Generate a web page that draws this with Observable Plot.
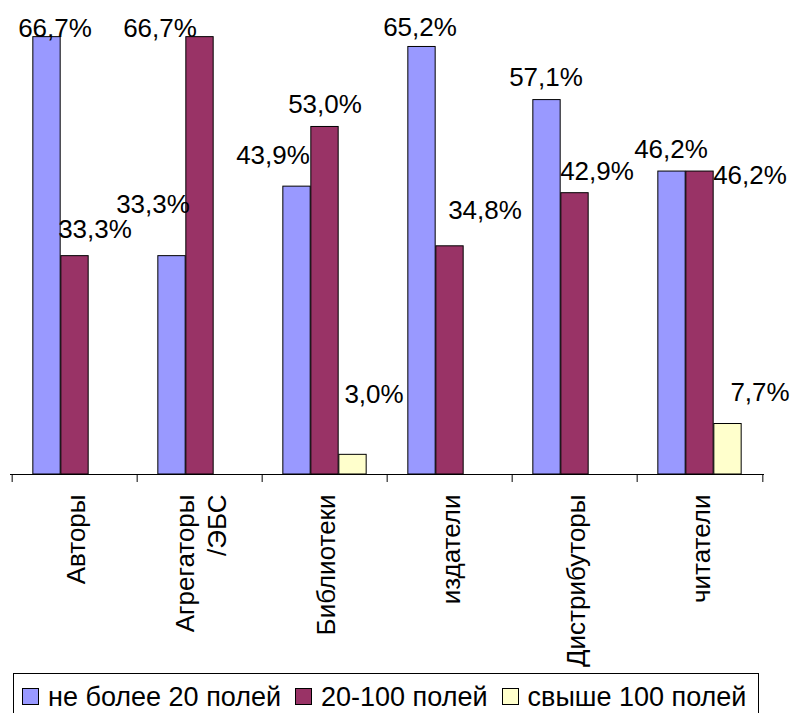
<!DOCTYPE html>
<html>
<head>
<meta charset="utf-8">
<script src="https://cdn.jsdelivr.net/npm/d3@7"></script>
<script src="https://cdn.jsdelivr.net/npm/@observablehq/plot@0.6"></script>
<style>
  html, body { margin: 0; padding: 0; background: #fff; }
  body { font-family: "Liberation Sans", Arial, sans-serif; width: 794px; height: 713px; overflow: hidden; }
  #chart svg { display: block; }
  .legend {
    margin-top: 3px; margin-left: 13px; width: 746px; height: 50px; box-sizing: border-box;
    border: 1px solid #000; padding: 8px 0 0 8px;
    display: flex; align-items: flex-start;
    font-size: 27px; line-height: 30px; color: #000; white-space: nowrap;
  }
  .legend .item { display: flex; align-items: center; margin-right: 14px; }
  .legend .sw { width: 15px; height: 15px; border: 1px solid #000; margin-right: 9px; margin-top: -2px; }
</style>
</head>
<body>
<div id="chart"></div>
<div class="legend" id="legend"></div>
<script>
// ---- data ----
const categories = ["Авторы", "Агрегаторы\n/ЭБС", "Библиотеки", "издатели", "Дистрибуторы", "читатели"];
const seriesNames = ["не более 20 полей", "20-100 полей", "свыше 100 полей"];
const upTo20 = [66.7, 33.3, 43.9, 65.2, 57.1, 46.2];
const from20to100 = [33.3, 66.7, 53.0, 34.8, 42.9, 46.2];
const over100 = [null, null, 3.0, null, null, 7.7];
const seriesColors = ["#9999FF", "#993366", "#FFFFCC"];
// label nudges (px) relative to the top centre of each bar, as placed in the original
const labelDx = [[8, -19, -24, -2, -1, -1], [20, -40, 0, 35, 22, 50], [0, 0, 21, 0, 0, 32]];
const labelDy = [[0, -43, -23, -11, -14, -14], [-18, 0, -14, -27, -13, 12], [0, 0, -52, 0, 0, -23]];

// ---- layout ----
const W = 794, H = 670, mL = 10, mR = 30, mT = 15, mB = 196;
const band = (W - mL - mR) / categories.length;
const barW = 28;
const inset = (band - barW) / 2;
const font = "Liberation Sans, Arial, sans-serif";

const allValues = [upTo20, from20to100, over100];
const rows = [];
allValues.forEach((vals, k) => {
  vals.forEach((v, i) => {
    if (v != null) rows.push({category: categories[i], series: seriesNames[k], k, value: v, ldx: labelDx[k][i], ldy: labelDy[k][i]});
  });
});
const fmt = v => v.toFixed(1).replace(".", ",") + "%";

const marks = [];
seriesNames.forEach((s, k) => {
  marks.push(Plot.barY(rows.filter(r => r.k === k), {
    x: "category", y: "value", fill: seriesColors[k], stroke: "#000", strokeWidth: 1,
    insetLeft: inset, insetRight: inset, dx: (k - 1) * barW
  }));
});
marks.push(Plot.ruleY([0], {stroke: "#000", strokeWidth: 1}));
marks.push(Plot.axisX({tickSize: 8, dx: -band / 2, fill: "none", label: null, stroke: "#000"}));
marks.push(Plot.axisX({ticks: [categories[categories.length - 1]], tickSize: 8, dx: band / 2, fill: "none", label: null, stroke: "#000"}));
marks.push(Plot.text(categories, {
  x: d => d, y: () => 0, text: d => d, rotate: -90, textAnchor: "end", lineAnchor: "middle",
  dy: 20, fontSize: 26, lineHeight: 1.2, fill: "#000"
}));
rows.forEach(r => {
  marks.push(Plot.text([r], {
    x: "category", y: "value", text: d => fmt(d.value), lineAnchor: "bottom",
    dx: (r.k - 1) * barW + r.ldx, dy: r.ldy, fontSize: 26, fill: "#000"
  }));
});

const chart = Plot.plot({
  width: W, height: H, marginLeft: mL, marginRight: mR, marginTop: mT, marginBottom: mB,
  style: {fontFamily: font, background: "#fff", overflow: "visible"},
  x: {type: "band", domain: categories, padding: 0, axis: null},
  y: {domain: [0, 70], axis: null},
  marks
});
document.getElementById("chart").appendChild(chart);

const legend = document.getElementById("legend");
seriesNames.forEach((s, k) => {
  const item = document.createElement("div");
  item.className = "item";
  const sw = document.createElement("div");
  sw.className = "sw";
  sw.style.background = seriesColors[k];
  const t = document.createElement("span");
  t.textContent = s;
  item.appendChild(sw);
  item.appendChild(t);
  legend.appendChild(item);
});
</script>
</body>
</html>
